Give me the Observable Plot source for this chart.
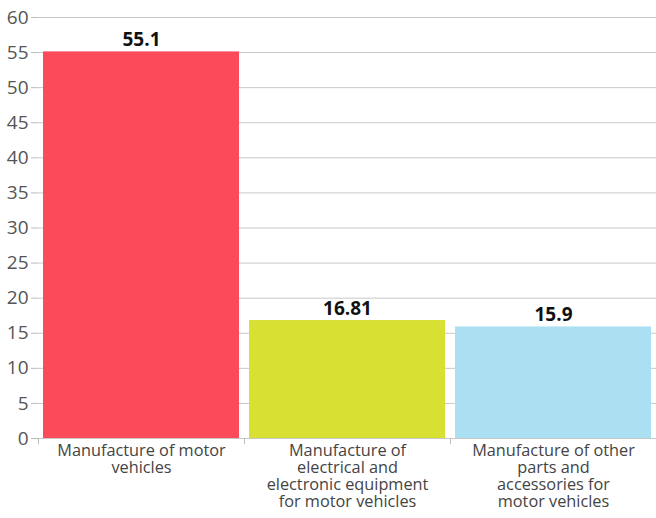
<!DOCTYPE html>
<html><head><meta charset="utf-8">
<script src="https://cdn.jsdelivr.net/npm/d3@7"></script>
<script src="https://cdn.jsdelivr.net/npm/@observablehq/plot@0.6"></script>
<style>body{margin:0;background:#fff;} svg{display:block;}</style>
</head><body><div id="chart"></div>
<script>
const categories = [
  "Manufacture of motor\nvehicles",
  "Manufacture of\nelectrical and\nelectronic equipment\nfor motor vehicles",
  "Manufacture of other\nparts and\naccessories for\nmotor vehicles"
];
const values = [55.1, 16.81, 15.9];
const valueLabels = ["55.1", "16.81", "15.9"];
const colors = ["#FB4B5B", "#D8E033", "#ABE0F3"];
const yTicks = d3.range(0, 61, 5);

const data = categories.map((c, i) => ({cat: c, value: values[i], label: valueLabels[i], color: colors[i]}));

const chart = Plot.plot({
  width: 656,
  height: 518,
  marginTop: 17,
  marginBottom: 80,
  marginLeft: 38,
  marginRight: 0,
  style: {fontFamily: "'Open Sans', sans-serif", background: "#fff"},
  x: {domain: categories, paddingInner: 0.05, paddingOuter: 0.025, label: null},
  y: {domain: [0, 60], label: null},
  axis: null,
  marks: [
    Plot.gridY(yTicks, {stroke: "#c8c8c8", strokeOpacity: 1}),
    Plot.barY(data, {x: "cat", y: "value", fill: "color"}),
    Plot.ruleY([0], {stroke: "#c8c8c8"}),
    Plot.axisY(yTicks, {tickSize: 7, tickPadding: 3, fontSize: 19, stroke: "#bbb", fill: "#555", tickFormat: d => d}),
    Plot.ruleX(categories, {x: d => d, y1: 0, y2: 0, dx: -103, stroke: "#bbb", insetBottom: -6}),
    Plot.text(data, {x: "cat", text: d => d.cat, y: 0, fontSize: 16.3, fill: "#444", lineHeight: 1.05, lineAnchor: "top", dy: 5}),
    Plot.text(data, {x: "cat", y: "value", text: "label", dy: -12, fontSize: 19, fontWeight: "bold", fill: "#111"})
  ]
});
document.getElementById("chart").append(chart);
</script></body></html>
